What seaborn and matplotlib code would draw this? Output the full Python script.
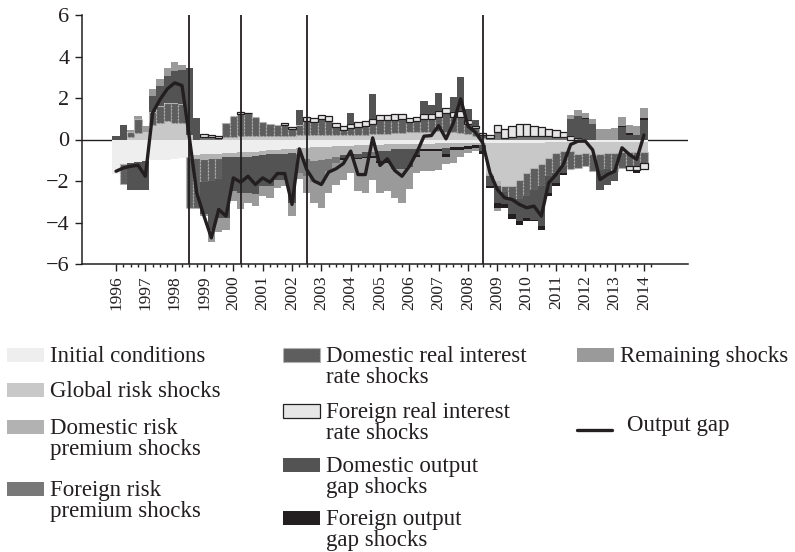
import numpy as np
import pandas as pd
import matplotlib
matplotlib.use("Agg")
import matplotlib.pyplot as plt
from matplotlib.patches import Rectangle
from matplotlib.lines import Line2D
import seaborn as sns

# ── data: quarterly decomposition 1996Q1 … 2014Q1 ───────────────────────────
quarters = pd.period_range("1996Q1", "2014Q1", freq="Q")

initial_conditions = [
    -1.65, -1.20, -1.15, -1.10, -1.05, -1.00, -1.00, -1.00, -0.95, -0.90,
    -0.85, -0.75, -0.72, -0.70, -0.68, -0.66, -0.64, -0.62, -0.60, -0.58,
    -0.55, -0.52, -0.50, -0.48, -0.45, -0.42, -0.40, -0.38, -0.36, -0.34,
    -0.32, -0.30, -0.30, -0.28, -0.27, -0.26, -0.25, -0.24, -0.23, -0.22,
    -0.22, -0.21, -0.20, -0.20, -0.19, -0.18, -0.18, -0.17, -0.17, -0.16,
    -0.16, -0.15, -0.15, -0.15, -0.15, -0.15, -0.15, -0.15, -0.15, -0.14,
    -0.14, -0.13, -0.12, -0.12, -0.12, -0.11, -0.11, -0.10, -0.10, -0.10,
    -0.10, -0.10, -0.10]
global_risk = [
    0.00, 0.00, 0.12, 0.30, 0.35, 0.72, 0.80, 0.88, 0.80, 0.80,
    0.20, 0.00, 0.00, 0.00, 0.00, 0.10, 0.12, 0.15, 0.15, 0.15,
    0.15, 0.15, 0.15, 0.15, 0.15, 0.20, 0.22, 0.22, 0.22, 0.22,
    0.20, 0.20, 0.22, 0.22, 0.22, 0.25, 0.25, 0.28, 0.30, 0.32,
    0.35, 0.35, 0.38, 0.38, 0.40, 0.38, 0.35, 0.30, 0.25, 0.15,
    0.05, -1.50, -1.85, -2.10, -2.10, -1.78, -1.45, -1.22, -1.05, -0.74,
    -0.50, -0.43, -0.45, -0.60, -0.55, -0.60, -0.60, -0.54, -0.54, -0.50,
    -0.50, -0.50, -0.50]
domestic_risk = [
    0.00, 0.00, 0.00, 0.00, 0.00, 0.00, 0.00, 0.00, 0.00, 0.00,
    0.00, -0.15, -0.20, -0.20, -0.20, -0.20, -0.22, -0.22, -0.22, -0.22,
    -0.22, -0.20, -0.20, -0.20, -0.20, -0.30, -0.55, -0.65, -0.65, -0.60,
    -0.50, -0.45, -0.40, -0.40, -0.35, -0.35, -0.30, -0.30, -0.25, -0.25,
    -0.25, -0.25, -0.25, -0.25, -0.25, -0.22, -0.20, -0.20, -0.15, -0.10,
    -0.10, -0.10, -0.25, 0.00, 0.00, 0.00, 0.00, 0.00, 0.00, 0.00,
    0.00, 0.00, 0.00, 0.00, 0.00, 0.00, 0.00, 0.00, 0.00, 0.00,
    0.00, 0.00, 0.00]
foreign_risk = [
    0.00, 0.00, 0.00, 0.00, 0.00, 0.00, 0.00, 0.00, 0.00, 0.00,
    0.00, 0.00, 0.12, 0.10, 0.08, 0.00, 0.00, 0.00, 0.00, 0.00,
    0.00, 0.00, 0.00, 0.00, 0.00, -0.90, -0.80, -1.00, -1.10, -0.60,
    -0.30, 0.00, 0.00, 0.00, 0.00, -0.20, 0.00, 0.00, 0.00, 0.00,
    0.00, 0.00, 0.00, 0.00, 0.00, 0.00, 0.00, 0.00, 0.00, 0.00,
    0.00, 0.05, 0.35, 0.08, 0.13, 0.16, 0.15, 0.15, 0.15, 0.15,
    0.13, 0.12, 0.00, 0.00, 0.00, 0.00, 0.00, 0.00, 0.00, 0.00,
    0.00, 0.00, 0.00]
domestic_rate = [
    0.00, -0.95, 0.25, 0.70, 0.00, 0.60, 0.80, 0.90, 0.95, 0.90,
    -2.45, -2.40, -1.15, -1.10, -1.00, 0.70, 1.02, 1.08, 1.12, 0.94,
    0.69, 0.62, 0.54, 0.55, 0.36, 0.50, 0.65, 0.60, 0.75, 0.65,
    0.40, 0.24, 0.35, 0.40, 0.42, 0.50, 0.70, 0.67, 0.65, 0.65,
    0.48, 0.52, 0.62, 0.60, 0.70, 0.90, 0.75, 0.80, 0.50, 0.40,
    0.15, 0.00, 0.00, -0.30, -0.56, -0.96, -1.13, -1.04, -1.05, -0.89,
    -0.97, -0.73, -0.85, -0.65, -0.62, -0.82, -0.74, -0.80, -0.89, -0.77,
    -0.70, -0.69, -0.52]
foreign_rate = [
    0.00, 0.00, 0.00, 0.00, 0.00, 0.00, 0.00, 0.00, 0.00, 0.00,
    0.00, 0.00, 0.15, 0.13, 0.10, 0.00, 0.00, 0.10, 0.02, 0.00,
    0.00, 0.00, 0.00, 0.10, 0.10, 0.00, 0.22, 0.21, 0.23, 0.25,
    0.20, 0.20, 0.20, 0.22, 0.24, 0.25, 0.25, 0.25, 0.30, 0.28,
    0.21, 0.22, 0.25, 0.25, 0.25, 0.25, 0.24, 0.25, 0.20, 0.10,
    0.12, 0.15, 0.37, 0.43, 0.54, 0.61, 0.60, 0.52, 0.45, 0.35,
    0.32, 0.26, 0.15, 0.05, 0.00, 0.00, 0.00, 0.00, 0.00, 0.00,
    -0.16, -0.19, -0.29]
domestic_gap = [
    0.15, 0.72, -1.30, -1.35, -1.40, 0.77, 0.97, 1.27, 1.55, 1.67,
    3.25, 1.04, -1.50, -2.35, -1.90, -2.90, -1.63, -1.73, -1.75, -1.85,
    -1.48, -1.53, -1.23, -1.25, -2.40, 0.70, 0.00, 0.00, 0.00, 0.00,
    0.00, -0.15, 0.52, -0.20, -0.20, 1.20, -0.50, -0.50, -0.95, -0.95,
    -0.85, -0.30, 0.60, 0.41, 0.87, -0.32, 0.70, 1.65, 0.54, 0.27,
    -0.30, -0.50, -0.80, -0.58, -0.80, -1.05, -1.05, -1.45, -1.93, -0.80,
    -0.48, -0.32, 0.85, 1.10, 1.00, 0.77, -0.96, -0.73, -0.47, 0.60,
    0.24, 0.24, 0.96]
foreign_gap = [
    0.00, 0.00, 0.00, 0.00, 0.00, 0.00, 0.00, 0.00, 0.00, 0.00,
    0.00, 0.00, 0.00, 0.00, 0.00, 0.00, 0.00, 0.00, 0.00, 0.00,
    0.00, 0.00, 0.00, 0.00, 0.00, 0.00, 0.00, 0.00, 0.00, 0.00,
    0.00, -0.10, -0.08, -0.08, -0.08, -0.08, -0.10, -0.10, 0.00, 0.00,
    0.00, -0.10, -0.10, -0.12, -0.10, -0.12, -0.12, -0.12, -0.12, -0.15,
    -0.13, -0.08, -0.24, -0.16, -0.24, -0.16, -0.16, -0.08, -0.16, -0.13,
    -0.13, -0.12, 0.00, 0.00, 0.05, 0.00, 0.00, 0.00, 0.00, 0.05,
    0.08, -0.13, 0.08]
remaining = [
    0.00, 0.00, 0.08, 0.15, 0.30, 0.32, 0.35, 0.40, 0.43, 0.20,
    0.00, 0.00, -0.13, -0.60, -0.70, -0.60, -0.48, -0.80, -0.48, -0.55,
    -0.48, -0.56, -0.40, -0.32, -0.65, -0.30, -0.82, -1.02, -1.19, -1.03,
    -1.05, -0.93, -0.82, -1.53, -1.67, -1.04, -1.42, -1.35, -1.37, -1.63,
    -1.08, -0.74, -0.95, -0.93, -0.91, -0.36, -0.62, -0.35, -0.20, -0.15,
    0.00, 0.00, -0.16, 0.00, 0.00, 0.00, 0.00, 0.00, 0.00, 0.00,
    0.00, 0.00, 0.20, 0.25, 0.22, 0.20, 0.50, 0.50, 0.55, 0.45,
    0.40, 0.43, 0.48]
output_gap = [
    -1.53, -1.37, -1.29, -1.24, -1.77, 1.29, 1.93, 2.44, 2.73, 2.60,
    0.10, -2.57, -3.69, -4.74, -3.37, -3.69, -1.85, -2.06, -1.77, -2.17,
    -1.85, -2.06, -1.64, -1.64, -3.13, -0.45, -1.45, -2.00, -2.17, -1.57,
    -1.41, -1.16, -0.56, -1.69, -1.69, 0.08, -1.25, -0.93, -1.49, -1.77,
    -1.29, -0.64, 0.16, 0.19, 0.67, 0.03, 0.80, 1.96, 0.64, 0.35,
    -0.16, -1.61, -2.41, -2.81, -2.89, -3.13, -3.29, -3.21, -3.69, -2.09,
    -1.69, -1.20, -0.24, -0.08, -0.08, -0.50, -1.93, -1.69, -1.53, -0.40,
    -0.72, -0.96, 0.22]

break_dates = [1998.5, 2000.25, 2002.5, 2008.5]
year_ticks = list(range(1996, 2015))

components = [
    # column, label, fill, edge, edge style
    ("initial", "Initial conditions", "#eeeeee", None, None),
    ("global", "Global risk shocks", "#c8c8c8", None, None),
    ("dom_risk", "Domestic risk\npremium shocks", "#b2b2b2", None, None),
    ("for_risk", "Foreign risk\npremium shocks", "#787878", None, None),
    ("dom_rate", "Domestic real interest\nrate shocks", "#5e5e5e", "#b5b5b5", ":"),
    ("for_rate", "Foreign real interest\nrate shocks", "#e6e6e6", "#231f20", "-"),
    ("dom_gap", "Domestic output\ngap shocks", "#535353", None, None),
    ("for_gap", "Foreign output\ngap shocks", "#231f20", None, None),
    ("remaining", "Remaining shocks", "#9a9a9a", None, None),
]

df = pd.DataFrame({
    "initial": initial_conditions, "global": global_risk,
    "dom_risk": domestic_risk, "for_risk": foreign_risk,
    "dom_rate": domestic_rate, "for_rate": foreign_rate,
    "dom_gap": domestic_gap, "for_gap": foreign_gap,
    "remaining": remaining, "output_gap": output_gap,
})
df["x"] = quarters.year + (quarters.quarter - 1) / 4.0

# ── style ───────────────────────────────────────────────────────────────────
sns.set_style("ticks")
plt.rcParams["font.family"] = ["Liberation Serif", "DejaVu Serif"]
plt.rcParams["text.color"] = "#231f20"
plt.rcParams["axes.edgecolor"] = "#231f20"
plt.rcParams["xtick.color"] = "#231f20"
plt.rcParams["ytick.color"] = "#231f20"

W, H = 795, 552
fig = plt.figure(figsize=(W / 100, H / 100), dpi=100)
ax = fig.add_axes([82 / W, 1 - 264 / H, (688 - 82) / W, (264 - 15) / H])

# ── stacked bars: positives up from zero, negatives down ─────────────────────
x = df["x"].to_numpy()
pos_base = np.zeros(len(df))
neg_base = np.zeros(len(df))
for col, label, fill, edge, ls in components:
    v = df[col].to_numpy()
    bottom = np.where(v >= 0, pos_base, neg_base)
    m = v != 0
    kw = dict(linewidth=0)
    if edge is not None:
        kw = dict(edgecolor=edge, linewidth=0.9, linestyle=ls)
    ax.bar(x[m], v[m], bottom=bottom[m], width=0.25, color=fill,
           align="center", zorder=2, **kw)
    pos_base += np.clip(v, 0, None)
    neg_base += np.clip(v, None, 0)

ax.axhline(0, color="#231f20", lw=1.0, zorder=1)
for b in break_dates:
    ax.axvline(b, color="#231f20", lw=1.3, zorder=4)

sns.lineplot(data=df, x="x", y="output_gap", color="#231f20", lw=2.4,
             ax=ax, zorder=5, legend=False)

# ── axes ────────────────────────────────────────────────────────────────────
ax.set_xlim(1994.84, 2015.5)
ax.set_ylim(-6, 6)
ax.set_yticks([-6, -4, -2, 0, 2, 4, 6])
ax.set_xticks(year_ticks)
ax.set_xticklabels([str(y) for y in year_ticks], rotation=90)
ax.set_xticks(np.arange(1996, 2014.3, 0.25), minor=True)
ax.tick_params(axis="y", which="major", labelsize=16, direction="out",
               length=5, width=1.0, pad=4)
ax.tick_params(axis="x", which="major", labelsize=12.5, direction="out",
               length=5, width=1.0, pad=3)
ax.tick_params(axis="x", which="minor", direction="out", length=2.5, width=1.0)
ax.set_xlabel("")
ax.set_ylabel("")
for s in ["left", "bottom"]:
    ax.spines[s].set_linewidth(1.1)
sns.despine(ax=ax)

# ── legend, drawn by hand so the keys sit on the first text line ─────────────
def px(x0, y0):
    return x0 / W, 1 - y0 / H

LEG_FS = 16.5
LINE_STEP = 21

legend_slots = [
    (7, 362), (7, 397), (7, 434), (7, 496),
    (283, 362), (283, 418), (283, 472), (283, 525),
    (577, 362),
]
for (col, label, fill, edge, ls), (lx, base) in zip(components, legend_slots):
    x0, y0 = px(lx, base)
    rect = Rectangle((x0, y0), 37 / W, 14 / H, transform=fig.transFigure,
                     facecolor=fill,
                     edgecolor=edge if edge else "none",
                     linewidth=0.9 if edge else 0,
                     linestyle=ls if ls else "-")
    fig.add_artist(rect)
    for k, line in enumerate(label.split("\n")):
        tx, ty = px(lx + 43, base + k * LINE_STEP)
        fig.text(tx, ty, line, fontsize=LEG_FS, va="baseline", ha="left")

lx0, ly0 = px(577, 430)
lx1, _ = px(612, 430)
fig.add_artist(Line2D([lx0, lx1], [ly0, ly0], transform=fig.transFigure,
                      color="#231f20", lw=2.4))
tx, ty = px(627, 431)
fig.text(tx, ty, "Output gap", fontsize=LEG_FS, va="baseline", ha="left")

fig.savefig("out.png", dpi=100)
